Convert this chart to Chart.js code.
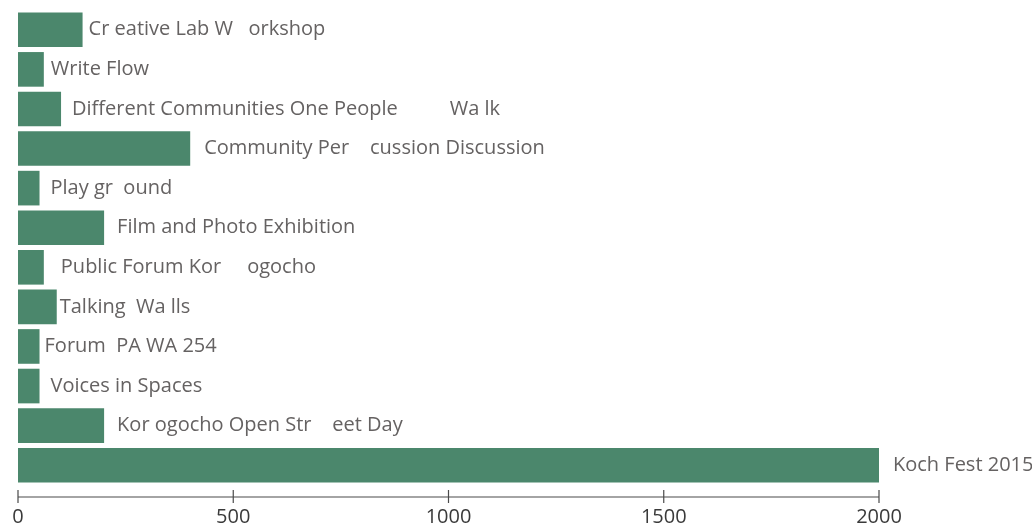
<!DOCTYPE html>
<html>
<head>
<meta charset="utf-8">
<script src="https://cdn.jsdelivr.net/npm/chart.js@4/dist/chart.umd.min.js"></script>
<style>
	html, body { margin: 0; padding: 0; background: #fff; }
	#wrap { width: 1032px; height: 528px; }
</style>
</head>
<body>
<div id="wrap"><canvas id="chart-events"></canvas></div>
<script>
// Chart data
const EVENTS = [
	"Cr eative Lab W   orkshop",
	"Write Flow",
	"Different Communities One People          Wa lk",
	"Community Per    cussion Discussion",
	"Play gr  ound",
	"Film and Photo Exhibition",
	"Public Forum Kor     ogocho",
	"Talking  Wa lls",
	"Forum  PA WA 254",
	"Voices in Spaces",
	"Kor ogocho Open Str    eet Day",
	"Koch Fest 2015",
];
const PARTICIPANTS = [150, 60, 100, 400, 50, 200, 60, 90, 50, 50, 200, 2000];
const X_TICKS = [0, 500, 1000, 1500, 2000];

const BAR_COLOR = "#4b876c";
const TEXT_COLOR = "#656262";
const AXIS_COLOR = "#4a4a4a";

// gap between bar end and its label (px), as set in the original
const LABEL_GAP = [6, 7, 11, 14, 11, 13, 17, 3, 5, 11, 13, 14];

// Labels drawn beside each bar
const barLabels = {
	id: "barLabels",
	afterDatasetsDraw(chart) {
		const { ctx } = chart;
		const meta = chart.getDatasetMeta(0);
		ctx.save();
		ctx.font = "20px 'Open Sans'";
		ctx.fillStyle = TEXT_COLOR;
		ctx.textBaseline = "middle";
		ctx.textAlign = "left";
		meta.data.forEach((bar, i) => {
			ctx.fillText(EVENTS[i], bar.x + LABEL_GAP[i], bar.y);
		});
		ctx.restore();
	},
};

// Axis line sits a little below the last bar
const bottomAxis = {
	id: "bottomAxis",
	afterDraw(chart) {
		const { ctx, chartArea } = chart;
		const x = chart.scales.x;
		const y = chartArea.bottom + 12;
		ctx.save();
		ctx.strokeStyle = AXIS_COLOR;
		ctx.lineWidth = 1.2;
		ctx.beginPath();
		ctx.moveTo(x.getPixelForValue(X_TICKS[0]), y);
		ctx.lineTo(x.getPixelForValue(X_TICKS[X_TICKS.length - 1]), y);
		X_TICKS.forEach((t) => {
			const px = x.getPixelForValue(t);
			ctx.moveTo(px, y - 7);
			ctx.lineTo(px, y + 6);
		});
		ctx.stroke();
		ctx.restore();
	},
};

const CHART_CONFIG = {
	type: "bar",
	data: {
		labels: EVENTS,
		datasets: [
			{
				data: PARTICIPANTS,
				backgroundColor: BAR_COLOR,
				borderWidth: 0,
				categoryPercentage: 1,
				barPercentage: 0.875,
			},
		],
	},
	options: {
		indexAxis: "y",
		responsive: true,
		maintainAspectRatio: false,
		animation: false,
		layout: {
			padding: {
				left: 18,
				right: 153,
				top: 10,
				bottom: 0,
			},
		},
		scales: {
			y: {
				display: false,
			},
			x: {
				min: 0,
				max: 2000,
				border: { display: false },
				grid: { display: false },
				afterBuildTicks: (scale) => {
					scale.ticks = X_TICKS.map((v) => ({ value: v }));
				},
				afterFit: (scale) => {
					scale.height = 43;
					scale.paddingLeft = 0;
					scale.paddingRight = 0;
				},
				ticks: {
					padding: 12,
					color: "#3a3a3a",
					font: { family: "'Open Sans'", size: 20 },
					maxRotation: 0,
					callback: (value) => String(value),
				},
			},
		},
		plugins: {
			legend: { display: false },
			tooltip: { enabled: false },
		},
	},
	plugins: [barLabels, bottomAxis],
};

new Chart(document.getElementById("chart-events"), CHART_CONFIG);
</script>
</body>
</html>
